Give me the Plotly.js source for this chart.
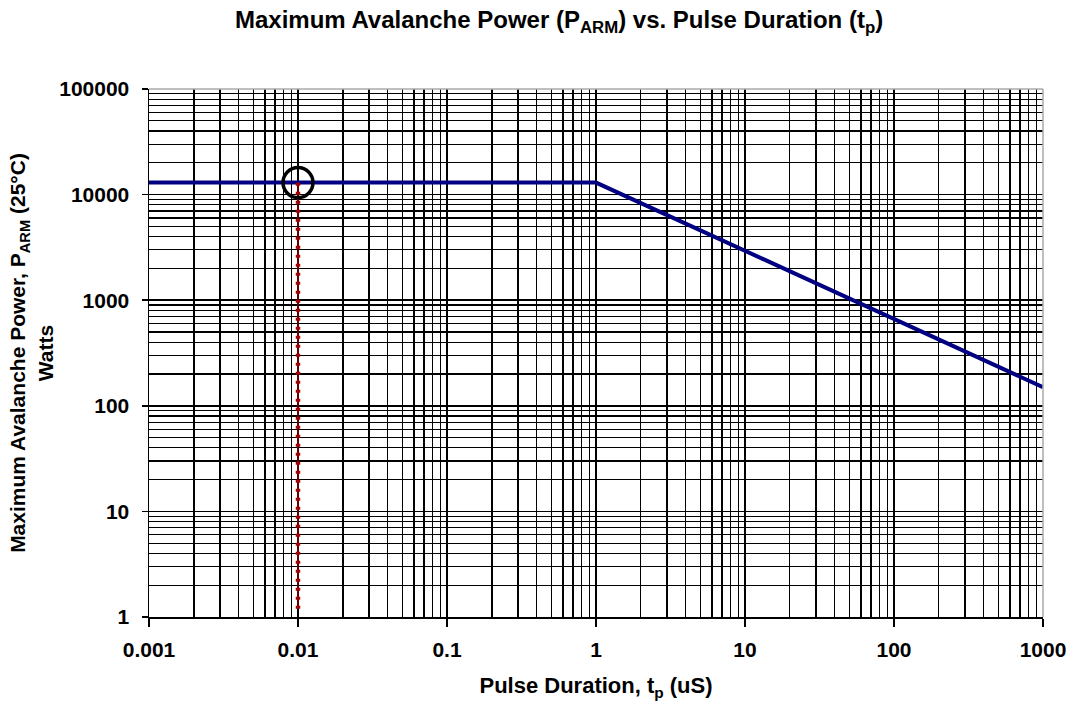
<!DOCTYPE html>
<html>
<head>
<meta charset="utf-8">
<script src="https://cdn.plot.ly/plotly-3.0.1.min.js"></script>
<style>html,body{margin:0;padding:0;background:#fff;}#chart{width:1071px;height:705px;}</style>
</head>
<body>
<div id="chart"></div>
<script>
// Data
const powerX = [0.001, 1, 1000];          // pulse duration (uS)
const powerY = [13000, 13000, 150];       // max avalanche power (W)
const markerX = [0.01, 0.01];             // vertical dotted reference line
const markerY = [1.2, 13000];
const pointX = [0.01];                    // circled point
const pointY = [13000];
const xTickVals = [0.001, 0.01, 0.1, 1, 10, 100, 1000];
const xTickText = ['0.001', '0.01', '0.1', '1', '10', '100', '1000'];
const yTickVals = [1, 10, 100, 1000, 10000, 100000];
const yTickText = ['1', '10', '100', '1000', '10000', '100000'];

const font = {family: 'Liberation Sans, Arial, sans-serif', color: '#000'};

const traces = [
  {x: powerX, y: powerY, mode: 'lines', line: {color: '#000080', width: 4}, hoverinfo: 'none'},
  {x: markerX, y: markerY, mode: 'lines', line: {color: '#a00000', width: 1.2}, hoverinfo: 'none'},
  {x: markerX, y: markerY, mode: 'lines', line: {color: '#a00000', width: 4.5, dash: '3px,6px'}, hoverinfo: 'none'},
  {x: pointX, y: pointY, mode: 'markers', marker: {symbol: 'circle-open', size: 30, color: '#000', line: {width: 3.5, color: '#000'}}, hoverinfo: 'none'}
];

const layout = {
  width: 1071, height: 705,
  margin: {l: 149, r: 28, t: 89, b: 88},
  paper_bgcolor: '#fff', plot_bgcolor: '#fff',
  showlegend: false,
  font: font,
  title: {
    text: '<b>Maximum Avalanche Power (P<sub>ARM</sub>) vs. Pulse Duration (t<sub>p</sub>)</b>',
    font: {family: font.family, size: 24, color: '#000'},
    x: 0.522, xanchor: 'center', y: 0.972, yanchor: 'middle'
  },
  xaxis: {
    type: 'log', range: [-3, 3],
    tickvals: xTickVals, ticktext: xTickText,
    tickfont: {family: font.family, size: 21, color: '#000', weight: 'bold'},
    ticks: 'outside', ticklen: 8, tickwidth: 1.5, tickcolor: '#000',
    ticklabelstandoff: 5,
    showgrid: true, gridcolor: '#000', gridwidth: 1.5,
    minor: {dtick: 'D1', showgrid: true, gridcolor: '#000', gridwidth: 1.3, ticks: ''},
    showline: true, linecolor: '#000', linewidth: 1.5,
    zeroline: false,
    title: {text: '<b>Pulse Duration, t<sub>p</sub> (uS)</b>', font: {family: font.family, size: 22, color: '#000'}, standoff: 18}
  },
  yaxis: {
    type: 'log', range: [0, 5],
    tickvals: yTickVals, ticktext: yTickText,
    tickfont: {family: font.family, size: 21, color: '#000', weight: 'bold'},
    ticks: 'outside', ticklen: 6, tickwidth: 1.5, tickcolor: '#000',
    ticklabelstandoff: 8,
    showgrid: true, gridcolor: '#000', gridwidth: 1.5,
    minor: {dtick: 'D1', showgrid: true, gridcolor: '#000', gridwidth: 1.3, ticks: ''},
    showline: true, linecolor: '#000', linewidth: 1.5,
    zeroline: false,
    title: {text: '<b>Maximum Avalanche Power, P<sub>ARM</sub> (25°C)<br>Watts</b>', font: {family: font.family, size: 21, color: '#000'}, standoff: 0}
  },
  shapes: [
    {type: 'line', xref: 'paper', yref: 'paper', x0: 0, x1: 1, y0: 1, y1: 1, line: {color: '#aaa', width: 1.5}},
    {type: 'line', xref: 'paper', yref: 'paper', x0: 1, x1: 1, y0: 0, y1: 1, line: {color: '#aaa', width: 1.5}}
  ]
};

Plotly.newPlot('chart', traces, layout, {displayModeBar: false, staticPlot: true});
</script>
</body>
</html>
